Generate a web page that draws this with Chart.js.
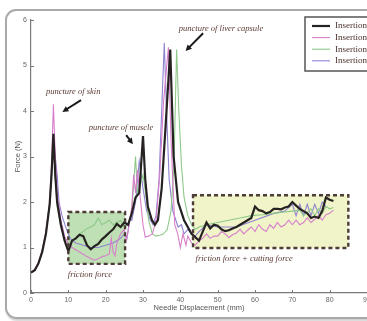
<!DOCTYPE html>
<html lang="en">

<head>
  <meta charset="UTF-8">
  <title>Needle insertion force</title>
  <style>
    body { margin: 0; background: #fff; overflow: hidden; }
    .moldura {
      position: absolute; left: 5px; top: 9px; width: 390px; height: 306px;
      border: 2px solid #a9a9a9; border-radius: 11px; box-shadow: 1px 2px 2px #d0d0d0;
    }
    #grafico { position: absolute; left: 0; top: 0; }
  </style>
</head>

<body>
  <div class="moldura"></div>
  <canvas id="grafico" width="367" height="321"></canvas>

  <script src="https://cdn.jsdelivr.net/npm/chart.js"></script>
  <script>
    // dados (deslocamento em mm, força em N)
    var ins1Desl = [0, 1, 2, 3, 4, 5, 5.5, 6, 6.5, 7, 8, 9, 10, 11, 12, 13, 14, 15, 16, 17, 18, 19, 20, 21, 22, 23, 24, 25, 26, 27, 28, 29, 30, 30.6, 31.3, 32.4, 33.2, 34, 35, 36, 37.3, 38.2, 39.4, 41, 43, 45, 46, 47, 48, 49, 50, 51, 52, 53, 54, 55, 56, 57, 58, 59, 60, 61, 62, 63, 64, 65, 66, 67, 68, 69, 70, 71, 72, 73, 74, 75, 76, 77, 78, 79, 80, 81];
    var ins1Forca = [0.45, 0.5, 0.65, 0.9, 1.3, 1.95, 2.6, 3.5, 2.6, 2.0, 1.5, 1.15, 0.92, 1.15, 1.2, 1.28, 1.25, 1.05, 0.96, 1.03, 1.08, 1.18, 1.25, 1.33, 1.4, 1.52, 1.45, 1.55, 1.5, 1.75, 2.1, 2.2, 3.45, 2.5, 1.9, 1.6, 1.5, 1.6, 2.3, 3.6, 5.35, 3.0, 2.0, 1.6, 1.3, 1.15, 1.35, 1.55, 1.42, 1.5, 1.48, 1.4, 1.36, 1.38, 1.42, 1.45, 1.5, 1.55, 1.6, 1.65, 1.9, 1.82, 1.8, 1.75, 1.78, 1.85, 1.85, 1.84, 1.88, 1.9, 2.0, 1.92, 1.85, 1.8, 1.75, 1.65, 1.68, 1.65, 1.8, 2.1, 2.05, 2.02];

    var ins2Desl = [0, 1, 2, 3, 4, 5, 5.5, 6, 6.5, 7, 8, 9, 10, 11, 12, 13, 14, 15, 16, 17, 18, 19, 20, 21, 21.5, 22, 22.5, 23, 24, 25, 25.5, 26, 27, 27.5, 28, 28.5, 29, 29.5, 30, 30.6, 31.5, 32.5, 33.5, 34.5, 35.5, 36.8, 37.5, 38.5, 39.3, 40, 40.7, 41.5, 42, 43, 44, 45, 46, 47, 48, 49, 50, 51, 52, 53, 54, 55, 56, 57, 58, 59, 60, 61, 62, 63, 64, 65, 66, 67, 68, 69, 70, 71, 72, 73, 74, 75, 76, 77, 78, 79, 80, 81];
    var ins2Forca = [0.45, 0.52, 0.68, 0.95, 1.35, 2.0, 2.8, 4.15, 3.0, 2.2, 1.6, 1.25, 1.08, 1.0, 0.95, 0.9, 0.85, 0.8, 0.76, 0.72, 0.75, 0.8, 0.82, 0.86, 1.2, 0.9, 0.82, 1.1, 1.3, 1.4, 1.15, 1.35, 1.9, 2.6, 2.2, 2.7, 2.3, 1.9, 1.5, 1.23, 1.25, 1.3, 1.6, 2.6, 4.2, 5.4, 3.4, 1.5, 1.3, 1.0, 1.3, 1.05, 1.25, 1.1, 1.05, 1.15, 1.2, 1.3, 1.2, 1.25, 1.25, 1.35, 1.3, 1.22, 1.28, 1.32, 1.4, 1.3, 1.38, 1.45, 1.35, 1.5, 1.4, 1.35, 1.5, 1.42, 1.55, 1.45, 1.5, 1.6, 1.5, 1.6, 1.5, 1.55, 1.65, 1.55, 1.62, 1.7, 1.6, 1.72, 1.75, 1.82];

    var ins3Desl = [0, 1, 2, 3, 4, 5, 5.5, 6, 6.5, 7, 8, 9, 10, 11, 12, 13, 14, 15, 16, 17, 18, 19, 20, 21, 22, 23, 24, 25, 26, 27, 27.5, 28, 28.5, 29, 30, 31, 31.5, 32.5, 33.5, 34.5, 35.5, 36.5, 37.5, 38.3, 39, 39.6, 40.3, 41, 42, 43, 44, 45, 47, 50, 53, 56, 59, 62, 65, 68, 70, 72, 73, 75, 76, 77, 78, 79, 80, 81];
    var ins3Forca = [0.45, 0.5, 0.66, 0.92, 1.32, 1.95, 2.6, 3.3, 2.5, 1.9, 1.45, 1.2, 1.1, 1.15, 1.2, 1.3, 1.35, 1.42, 1.45, 1.5, 1.65, 1.5, 1.55, 1.6, 1.5, 1.55, 1.6, 1.45, 1.5, 1.8, 2.4, 3.0, 2.2, 2.3, 2.6, 2.0, 1.6, 1.3, 1.25, 1.27, 1.3, 1.4, 1.8, 2.8, 5.35, 4.0, 2.8, 2.1, 1.7, 1.5, 1.4, 1.45, 1.5, 1.55, 1.6, 1.65, 1.7, 1.72, 1.75, 1.78, 1.8, 1.82, 1.7, 1.85, 1.7, 1.85, 1.75, 1.9, 1.85, 1.88];

    var ins4Desl = [0, 1, 2, 3, 4, 5, 5.5, 6, 6.5, 7, 7.5, 8.3, 9.5, 10.5, 12, 14, 16, 18, 20, 22, 24, 25, 25.7, 26.5, 27, 28, 29, 30, 31, 32, 32.7, 33.5, 34.3, 35, 35.7, 36.3, 37, 38, 39.4, 40.3, 41, 42, 43, 44, 45, 47, 50, 55, 60, 65, 68, 70, 71, 72, 73, 74, 75, 76, 77, 78, 79];
    var ins4Forca = [0.45, 0.5, 0.66, 0.92, 1.32, 1.95, 2.6, 3.4, 3.0, 2.6, 2.0, 1.7, 1.4, 1.2, 1.1, 1.05, 1.0, 1.0, 1.05, 1.1, 1.2, 1.3, 1.2, 1.65, 1.6, 2.0, 2.9, 2.3, 1.8, 1.6, 1.5, 1.7, 2.5, 4.0, 5.5, 4.0, 2.5, 1.8, 1.45, 1.5, 1.3, 1.4, 1.3, 1.25, 1.35, 1.5, 1.45, 1.45, 1.6, 1.75, 1.8, 1.95, 1.7, 1.95, 1.7, 1.95, 1.7, 1.95, 1.75, 2.0, 1.9];

    var rotulos = ["Insertion 1", "Insertion 2", "Insertion 3", "Insertion 4"];
    var cores = ["#262222", "#d77fcc", "#8ec98a", "#8f83d2"];

    var ticksX = [0, 10, 20, 30, 40, 50, 60, 70, 80, 90];
    var ticksY = [0, 1, 2, 3, 4, 5, 6];

    // caixas e anotações em coordenadas de dados
    var caixas = [
      { x0: 10, x1: 25.2, y0: 0.64, y1: 1.78, fundo: "#bfe0b4" },
      { x0: 43.4, x1: 85, y0: 0.99, y1: 2.15, fundo: "#f0f4c8" }
    ];
    var textos = [
      { t: "puncture of skin", x: 11.3, y: 4.42 },
      { t: "puncture of muscle", x: 24.1, y: 3.63 },
      { t: "puncture of liver capsule", x: 50.9, y: 5.8 },
      { t: "friction force", x: 15.8, y: 0.4 },
      { t: "friction force + cutting force", x: 57.1, y: 0.75 }
    ];
    var setas = [
      { x0: 13.4, y0: 4.24, x1: 8.4, y1: 3.98 },
      { x0: 25.5, y0: 3.47, x1: 27.3, y1: 3.27 },
      { x0: 46.1, y0: 5.71, x1: 41.4, y1: 5.32 }
    ];

    function pontos(xs, ys) {
      var lista = [];
      for (var i = 0; i < xs.length; i++) {
        lista.push({ x: xs[i], y: ys[i] });
      }
      return lista;
    }

    var series = [[ins1Desl, ins1Forca], [ins2Desl, ins2Forca], [ins3Desl, ins3Forca], [ins4Desl, ins4Forca]];
    var datasets = [];
    // ordem de desenho: linha preta por cima
    for (var i = 3; i >= 0; i--) {
      datasets.push({
        label: rotulos[i],
        data: pontos(series[i][0], series[i][1]),
        borderColor: cores[i],
        borderWidth: i == 0 ? 2.2 : 1.1,
        pointRadius: 0,
        tension: 0,
        order: i
      });
    }

    var pluginFigura = {
      id: 'figura',
      beforeDatasetsDraw: function (chart) {
        var ctx = chart.ctx;
        var sx = chart.scales.x, sy = chart.scales.y;
        ctx.save();
        caixas.forEach(function (c) {
          var l = sx.getPixelForValue(c.x0), r = sx.getPixelForValue(c.x1);
          var t = sy.getPixelForValue(c.y1), b = sy.getPixelForValue(c.y0);
          ctx.fillStyle = c.fundo;
          ctx.fillRect(l, t, r - l, b - t);
        });
        ctx.restore();
      },
      afterDatasetsDraw: function (chart) {
        var ctx = chart.ctx;
        var sx = chart.scales.x, sy = chart.scales.y;
        ctx.save();
        // bordas tracejadas
        ctx.strokeStyle = "#4e3c36";
        ctx.lineWidth = 2.4;
        ctx.setLineDash([4, 3]);
        caixas.forEach(function (c) {
          var l = sx.getPixelForValue(c.x0), r = sx.getPixelForValue(c.x1);
          var t = sy.getPixelForValue(c.y1), b = sy.getPixelForValue(c.y0);
          ctx.strokeRect(l, t, r - l, b - t);
        });
        ctx.setLineDash([]);

        // textos
        ctx.fillStyle = "#5a3a33";
        ctx.font = "italic 8.5px 'Liberation Serif', 'DejaVu Serif', serif";
        ctx.textAlign = "center";
        ctx.textBaseline = "middle";
        textos.forEach(function (a) {
          ctx.fillText(a.t, sx.getPixelForValue(a.x), sy.getPixelForValue(a.y));
        });

        // setas
        ctx.strokeStyle = "#1a1a1a";
        ctx.fillStyle = "#1a1a1a";
        ctx.lineWidth = 2;
        setas.forEach(function (s) {
          var ax = sx.getPixelForValue(s.x0), ay = sy.getPixelForValue(s.y0);
          var bx = sx.getPixelForValue(s.x1), by = sy.getPixelForValue(s.y1);
          var ang = Math.atan2(by - ay, bx - ax);
          ctx.beginPath();
          ctx.moveTo(ax, ay);
          ctx.lineTo(bx - 4 * Math.cos(ang), by - 4 * Math.sin(ang));
          ctx.stroke();
          ctx.beginPath();
          ctx.moveTo(bx, by);
          ctx.lineTo(bx - 6 * Math.cos(ang) + 3 * Math.sin(ang), by - 6 * Math.sin(ang) - 3 * Math.cos(ang));
          ctx.lineTo(bx - 6 * Math.cos(ang) - 3 * Math.sin(ang), by - 6 * Math.sin(ang) + 3 * Math.cos(ang));
          ctx.closePath();
          ctx.fill();
        });

        // marcas dos eixos para dentro
        ctx.strokeStyle = "#777";
        ctx.lineWidth = 1;
        var base = sy.getPixelForValue(0), esq = sx.getPixelForValue(0);
        ticksX.forEach(function (v) {
          var px = Math.round(sx.getPixelForValue(v)) + 0.5;
          ctx.beginPath(); ctx.moveTo(px, base); ctx.lineTo(px, base - 3); ctx.stroke();
        });
        ticksY.forEach(function (v) {
          var py = Math.round(sy.getPixelForValue(v)) + 0.5;
          ctx.beginPath(); ctx.moveTo(esq, py); ctx.lineTo(esq + 3, py); ctx.stroke();
        });
        ctx.restore();
      },
      afterDraw: function (chart) {
        // legenda (cortada na borda direita como no original)
        var ctx = chart.ctx;
        ctx.save();
        ctx.fillStyle = "#fff";
        ctx.fillRect(305, 17, 80, 54);
        ctx.strokeStyle = "#555";
        ctx.lineWidth = 1.5;
        ctx.strokeRect(305, 17, 80, 54);
        ctx.font = "9px 'Liberation Serif', 'DejaVu Serif', serif";
        ctx.textBaseline = "middle";
        ctx.textAlign = "left";
        for (var i = 0; i < rotulos.length; i++) {
          var y = 26 + i * 11.6;
          ctx.strokeStyle = cores[i];
          ctx.lineWidth = i == 0 ? 2.2 : 1.1;
          ctx.beginPath(); ctx.moveTo(312, y); ctx.lineTo(330, y); ctx.stroke();
          ctx.fillStyle = "#4a3029";
          ctx.fillText(rotulos[i], 335, y);
        }
        ctx.restore();
      }
    };

    var canva = document.getElementById("grafico");
    var grafico = new Chart(canva, {
      type: 'line',
      data: { datasets: datasets },
      plugins: [pluginFigura],
      options: {
        responsive: false,
        animation: false,
        layout: { padding: { left: 0, top: 20, right: 0, bottom: 0 } },
        plugins: { legend: { display: false }, tooltip: { enabled: false } },
        scales: {
          x: {
            type: 'linear',
            min: 0,
            max: 90,
            afterFit: function (scale) { scale.height = 28; scale.paddingLeft = 0; scale.paddingRight = 0; },
            afterBuildTicks: function (scale) { scale.ticks = ticksX.map(function (v) { return { value: v }; }); },
            grid: { display: false, drawTicks: false },
            border: { display: true, color: "#7a7a7a", width: 1.2 },
            ticks: { color: "#666", font: { size: 7, family: "'Liberation Sans', sans-serif" }, padding: 3, maxRotation: 0 },
            title: { display: true, text: "Needle Displacement (mm)", color: "#555", font: { size: 7.5, family: "'Liberation Sans', sans-serif" }, padding: { top: 0, bottom: 9 } }
          },
          y: {
            min: 0,
            max: 6,
            afterFit: function (scale) { scale.width = 31; scale.paddingTop = 0; scale.paddingBottom = 0; },
            afterBuildTicks: function (scale) { scale.ticks = ticksY.map(function (v) { return { value: v }; }); },
            grid: { display: false, drawTicks: false },
            border: { display: true, color: "#7a7a7a", width: 1.2 },
            ticks: { color: "#666", font: { size: 7, family: "'Liberation Sans', sans-serif" }, padding: 4 },
            title: { display: true, text: "Force (N)", color: "#555", font: { size: 7.5, family: "'Liberation Sans', sans-serif" }, padding: { top: 13, bottom: 0 } }
          }
        }
      }
    });
  </script>
</body>

</html>
